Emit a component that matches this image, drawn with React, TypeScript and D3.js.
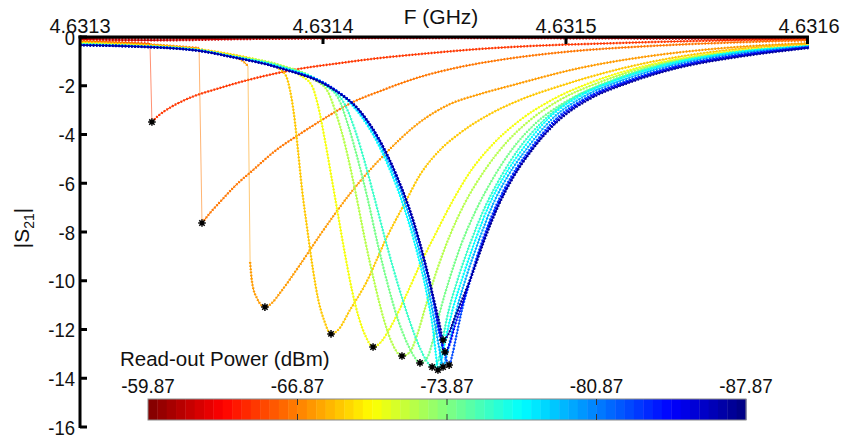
import React from "react";
import * as d3 from "d3";

// ---------------- data ----------------
const F0_GHZ = 4.6313; // sweep offsets below are kHz above this frequency
const freqTicksGHz = [4.6313, 4.6314, 4.6315, 4.6316];
const s21Ticks = [0, -2, -4, -6, -8, -10, -12, -14, -16];
const powerTicks = [-59.87, -66.87, -73.87, -80.87, -87.87];
const powerDomain = [-59.87, -87.87];

// read-out power of each sweep (dBm), in plotting order
const sweepPowers = [-59.87, -61.87, -64.87, -66.62, -67.62, -68.87, -70.62, -72.37, -74.12, -75.87, -77.37, -79.62, -82.37, -84.62, -87.12];

// [offset kHz, |S21|]
const sweep01 = [[0, -0.06], [28.8, -0.08], [70.0, -0.04], [152.3, -0.02], [234.6, -0.04], [300, -0.06]];
const sweep02 = [[0, -0.1], [28.8, -0.14], [70.0, -0.08], [152.3, -0.04], [234.6, -0.06], [300, -0.08]];
const sweep03 = [[0, -0.16], [14.4, -0.21], [28.8, -0.27], [29.6, -3.49], [32.1, -3.24], [36.2, -2.95], [43.2, -2.58], [57.6, -2.09], [74.1, -1.64], [87.7, -1.35], [107.0, -1.07], [123.5, -0.86], [139.9, -0.7], [164.6, -0.49], [185.2, -0.37], [214.0, -0.27], [255.1, -0.16], [300, -0.1]];
const sweep04 = [[0, -0.18], [16.5, -0.23], [32.9, -0.33], [49.0, -0.45], [50.2, -7.63], [53.5, -7.22], [57.6, -6.77], [63.8, -6.11], [71.2, -5.46], [80.2, -4.68], [90.5, -3.98], [98.8, -3.45], [112.3, -2.67], [123.5, -2.22], [139.9, -1.64], [156.4, -1.23], [172.8, -0.94], [198.8, -0.62], [234.6, -0.37], [267.5, -0.23], [300, -0.14]];
const sweep05 = [[0, -0.21], [20.6, -0.29], [41.2, -0.41], [55.6, -0.62], [63.8, -0.82], [67.5, -1.03], [69.1, -1.19], [70.0, -9.23], [70.8, -10.05], [72.8, -10.71], [76.1, -11.08], [79.0, -10.91], [82.3, -10.5], [90.5, -9.35], [98.8, -8.12], [112.3, -6.28], [126.3, -4.72], [139.9, -3.49], [152.3, -2.75], [164.6, -2.34], [178.2, -1.97], [205.8, -1.27], [234.6, -0.78], [260.5, -0.49], [300, -0.25]];
const sweep06 = [[0, -0.23], [20.6, -0.31], [48.1, -0.49], [61.7, -0.7], [74.1, -0.98], [81.5, -1.27], [84.8, -1.6], [86.4, -2.17], [88.1, -3.2], [89.7, -4.64], [91.4, -6.28], [93.4, -7.79], [95.9, -9.56], [97.9, -10.71], [100.4, -11.61], [103.3, -12.18], [106.2, -12.02], [111.1, -11.2], [117.3, -10.17], [126.3, -8.21], [133.7, -6.81], [139.9, -5.66], [148.1, -4.64], [156.4, -3.94], [168.7, -3.16], [181.1, -2.58], [197.5, -2.01], [214.0, -1.52], [234.6, -1.03], [263.4, -0.57], [300, -0.29]];
const sweep07 = [[0, -0.25], [20.6, -0.33], [48.1, -0.51], [61.7, -0.74], [78.2, -1.07], [90.5, -1.56], [95.5, -2.01], [97.9, -2.79], [100.8, -4.23], [103.7, -5.87], [106.2, -7.3], [109.1, -8.94], [111.9, -10.38], [114.8, -11.53], [117.7, -12.31], [120.6, -12.72], [123.5, -12.55], [127.6, -11.94], [133.7, -10.71], [139.9, -9.35], [146.1, -8.12], [153.1, -6.77], [160.5, -5.54], [170.0, -4.39], [181.1, -3.41], [194.2, -2.58], [210.7, -1.85], [232.5, -1.19], [259.3, -0.7], [300, -0.37]];
const sweep08 = [[0, -0.27], [20.6, -0.35], [48.1, -0.53], [61.7, -0.76], [82.3, -1.15], [96.7, -1.76], [102.1, -2.26], [104.9, -2.99], [109.1, -4.43], [113.2, -6.28], [117.3, -8.33], [121.4, -10.17], [125.1, -11.61], [128.8, -12.64], [132.5, -13.09], [135.8, -12.92], [138.7, -12.23], [142.4, -10.99], [146.9, -9.56], [152.3, -8.12], [158.4, -6.81], [165.8, -5.58], [174.9, -4.39], [185.2, -3.41], [197.5, -2.58], [214.0, -1.85], [236.6, -1.15], [261.3, -0.7], [300, -0.39]];
const sweep09 = [[0, -0.29], [20.6, -0.36], [48.1, -0.53], [61.7, -0.78], [82.3, -1.19], [98.8, -1.85], [106.2, -2.5], [110.3, -3.61], [114.4, -5.05], [118.5, -6.69], [122.6, -8.53], [126.7, -10.17], [130.9, -11.61], [135.0, -12.64], [137.4, -13.09], [139.9, -13.37], [142.8, -13.17], [145.3, -12.43], [148.1, -11.28], [151.9, -9.97], [156.8, -8.53], [162.6, -7.18], [169.1, -5.95], [177.0, -4.72], [187.2, -3.57], [199.6, -2.67], [216.0, -1.89], [237.4, -1.19], [262.6, -0.74], [300, -0.41]];
const sweep10 = [[0, -0.3], [20.6, -0.37], [48.1, -0.53], [61.7, -0.78], [82.3, -1.21], [100.8, -1.97], [109.1, -2.79], [113.2, -3.82], [117.3, -5.17], [121.4, -6.69], [125.9, -8.41], [130.9, -10.17], [135.8, -11.69], [139.9, -12.76], [142.4, -13.25], [144.9, -13.54], [147.3, -13.33], [148.6, -12.76], [151.0, -11.53], [155.1, -10.05], [160.5, -8.49], [166.3, -7.06], [172.4, -5.87], [180.2, -4.64], [190.5, -3.45], [202.5, -2.54], [218.9, -1.81], [239.5, -1.15], [264.2, -0.7], [300, -0.39]];
const sweep11 = [[0, -0.31], [20.6, -0.37], [48.1, -0.53], [61.7, -0.78], [82.3, -1.23], [102.9, -2.05], [111.9, -2.79], [120.2, -3.94], [127.6, -5.46], [133.7, -7.1], [138.7, -8.82], [142.8, -10.58], [145.3, -12.02], [146.5, -13.05], [147.3, -13.66], [148.6, -13.33], [150.2, -12.51], [153.1, -11.28], [157.6, -9.81], [163.0, -8.25], [168.7, -6.81], [174.9, -5.66], [183.1, -4.47], [193.4, -3.28], [205.8, -2.42], [222.2, -1.72], [242.8, -1.11], [267.5, -0.66], [300, -0.37]];
const sweep12 = [[0, -0.32], [20.6, -0.37], [48.1, -0.54], [61.7, -0.79], [82.3, -1.25], [103.7, -2.09], [113.2, -2.87], [121.4, -4.02], [128.8, -5.54], [135.0, -7.18], [139.9, -8.9], [144.0, -10.67], [146.5, -12.02], [148.1, -12.92], [149.4, -13.54], [150.6, -13.17], [152.3, -12.43], [154.7, -11.32], [158.8, -9.89], [164.2, -8.33], [170.0, -6.85], [176.1, -5.7], [184.4, -4.51], [194.7, -3.32], [207.0, -2.46], [223.5, -1.76], [244.0, -1.15], [268.7, -0.7], [300, -0.39]];
const sweep13 = [[0, -0.33], [20.6, -0.38], [48.1, -0.55], [61.7, -0.8], [82.3, -1.27], [104.5, -2.13], [114.0, -2.91], [122.6, -4.14], [130.0, -5.66], [136.2, -7.3], [141.2, -9.03], [145.3, -10.79], [147.7, -12.1], [149.8, -12.92], [151.9, -13.46], [153.1, -13.09], [154.7, -12.35], [156.8, -11.36], [160.5, -9.97], [165.4, -8.41], [171.2, -6.93], [177.4, -5.74], [185.6, -4.55], [195.9, -3.36], [208.2, -2.5], [224.7, -1.81], [245.3, -1.19], [270.0, -0.74], [300, -0.41]];
const sweep14 = [[0, -0.33], [20.6, -0.38], [48.1, -0.55], [61.7, -0.8], [82.3, -1.27], [104.9, -2.17], [114.4, -2.95], [123.0, -4.18], [130.5, -5.74], [136.6, -7.38], [141.6, -9.15], [145.7, -10.87], [148.1, -12.1], [150.2, -12.92], [152.3, -12.55], [154.3, -11.82], [157.2, -10.99], [160.9, -9.89], [165.8, -8.41], [171.6, -6.97], [177.8, -5.78], [186.0, -4.59], [196.3, -3.41], [208.6, -2.54], [225.1, -1.85], [245.7, -1.23], [270.4, -0.78], [300, -0.43]];
const sweep15 = [[0, -0.34], [20.6, -0.39], [48.1, -0.56], [61.7, -0.81], [82.3, -1.28], [105.3, -2.22], [114.8, -2.99], [123.5, -4.27], [130.9, -5.83], [137.0, -7.47], [142.0, -9.23], [145.7, -10.79], [148.1, -11.82], [149.4, -12.43], [151.4, -12.23], [153.9, -11.61], [157.2, -10.79], [161.3, -9.76], [166.3, -8.37], [172.0, -6.97], [178.2, -5.78], [186.4, -4.59], [196.7, -3.45], [209.1, -2.58], [225.5, -1.89], [246.1, -1.27], [270.8, -0.82], [300, -0.45]];

const sweeps = [sweep01, sweep02, sweep03, sweep04, sweep05, sweep06, sweep07, sweep08, sweep09, sweep10, sweep11, sweep12, sweep13, sweep14, sweep15];
// index of the last point before the bistable jump (-1: no jump)
const jumpAfter = [-1, -1, 2, 3, 6, -1, -1, -1, -1, -1, -1, -1, -1, -1, -1];

// ---------------- helpers ----------------
function jet(t: number) {
  const c = (v: number) => Math.max(0, Math.min(1, v));
  const r = c(1.5 - Math.abs(4 * t - 3));
  const g = c(1.5 - Math.abs(4 * t - 2));
  const b = c(1.5 - Math.abs(4 * t - 1));
  return d3.rgb(r * 255, g * 255, b * 255).formatHex();
}

const FONT = "'Liberation Sans', Arial, Helvetica, sans-serif";

export default function App() {
  const x = d3.scaleLinear().domain([4.6313, 4.6316]).range([80, 809]);
  const y = d3.scaleLinear().domain([0, -16]).range([37, 427]);
  const cb = d3.scaleLinear().domain(powerDomain).range([148, 746]);
  const tOf = (p: number) => (p - powerDomain[1]) / (powerDomain[0] - powerDomain[1]);

  const line = d3
    .line<number[]>()
    .x((d) => x(F0_GHZ + d[0] * 1e-6))
    .y((d) => y(d[1]))
    .curve(d3.curveMonotoneX);
  const straight = d3
    .line<number[]>()
    .x((d) => x(F0_GHZ + d[0] * 1e-6))
    .y((d) => y(d[1]));

  const nBlocks = 64;
  const blockW = (cb.range()[1] - cb.range()[0]) / nBlocks;

  return (
    <svg width={844} height={441} style={{ position: "absolute", left: 0, top: 0, background: "#fff" }} fontFamily={FONT}>
      <rect x={0} y={0} width={844} height={441} fill="#fff" />

      {sweeps.map((pts, i) => {
        const col = jet(tOf(sweepPowers[i]));
        const j = jumpAfter[i];
        const parts = j >= 0 ? [pts.slice(0, j + 1), pts.slice(j + 1)] : [pts];
        return (
          <g key={i}>
            {j >= 0 && (
              <path d={straight([pts[j], pts[j + 1]]) || ""} stroke={col} strokeOpacity={0.55} strokeWidth={1} fill="none" />
            )}
            {parts.map((p, k) => (
              <g key={k}>
                <path d={line(p) || ""} stroke={col} strokeWidth={1} fill="none" />
                <path d={line(p) || ""} stroke={col} strokeWidth={2.4} strokeDasharray="1.5 1.7" fill="none" />
              </g>
            ))}
          </g>
        );
      })}

      {sweeps.map((pts, i) => {
        const m = d3.least(pts, (d) => d[1]);
        if (!m || m[1] > -1) return null;
        const cx = x(F0_GHZ + m[0] * 1e-6);
        const cy = y(m[1]);
        return (
          <path
            key={"s" + i}
            transform={`translate(${cx},${cy})`}
            d="M-3.8,0H3.8M0,-3.8V3.8M-2.7,-2.7L2.7,2.7M-2.7,2.7L2.7,-2.7"
            stroke="#000"
            strokeWidth={1.5}
            fill="none"
          />
        );
      })}

      {/* axes */}
      <line x1={78.5} x2={809} y1={37} y2={37} stroke="#000" strokeWidth={3} />
      <line x1={80} x2={80} y1={35.5} y2={428} stroke="#000" strokeWidth={3} />
      {freqTicksGHz.slice(1).map((t) => (
        <line key={"xt" + t} x1={x(t) - (t === 4.6316 ? 1.5 : 0)} x2={x(t) - (t === 4.6316 ? 1.5 : 0)} y1={37} y2={44} stroke="#000" strokeWidth={3} />
      ))}
      {s21Ticks.map((t) => (
        <line key={"yt" + t} x1={80} x2={87} y1={y(t)} y2={y(t)} stroke="#000" strokeWidth={3} />
      ))}
      {freqTicksGHz.map((t) => (
        <text key={"xl" + t} x={x(t)} y={33} textAnchor="middle" fontSize={20} fill="#111">
          {t.toFixed(4)}
        </text>
      ))}
      {s21Ticks.map((t) => (
        <text
          key={"yl" + t}
          transform={`translate(75,${y(t) + 7.5}) scale(0.88,1)`}
          textAnchor="end"
          fontSize={21}
          fill="#111"
        >
          {`${t}`}
        </text>
      ))}
      <text x={441} y={24} textAnchor="middle" fontSize={21} fill="#111">
        F (GHz)
      </text>
      <text transform="translate(29,228) rotate(-90)" textAnchor="middle" fontSize={21} fill="#111">
        |S<tspan fontSize={14} dy={5}>21</tspan>
        <tspan dy={-5}>|</tspan>
      </text>

      {/* colorbar */}
      <text x={120} y={366} fontSize={20.5} fill="#111">
        Read-out Power (dBm)
      </text>
      {d3.range(nBlocks).map((b) => (
        <rect
          key={"cb" + b}
          x={cb.range()[0] + b * blockW}
          y={399}
          width={blockW + 0.4}
          height={21}
          fill={jet(1 - (b + 0.5) / nBlocks)}
        />
      ))}
      <rect x={148} y={399} width={598} height={21} fill="none" stroke="#8a8a8a" strokeWidth={1} />
      {powerTicks.slice(1, -1).map((p) => (
        <g key={"ct" + p}>
          <line x1={cb(p)} x2={cb(p)} y1={399} y2={405} stroke="#333" strokeWidth={1} />
          <line x1={cb(p)} x2={cb(p)} y1={414} y2={420} stroke="#333" strokeWidth={1} />
        </g>
      ))}
      {powerTicks.map((p) => (
        <text key={"cl" + p} transform={`translate(${cb(p)},393) scale(0.9,1)`} textAnchor="middle" fontSize={21} fill="#111">
          {p.toFixed(2)}
        </text>
      ))}
    </svg>
  );
}
